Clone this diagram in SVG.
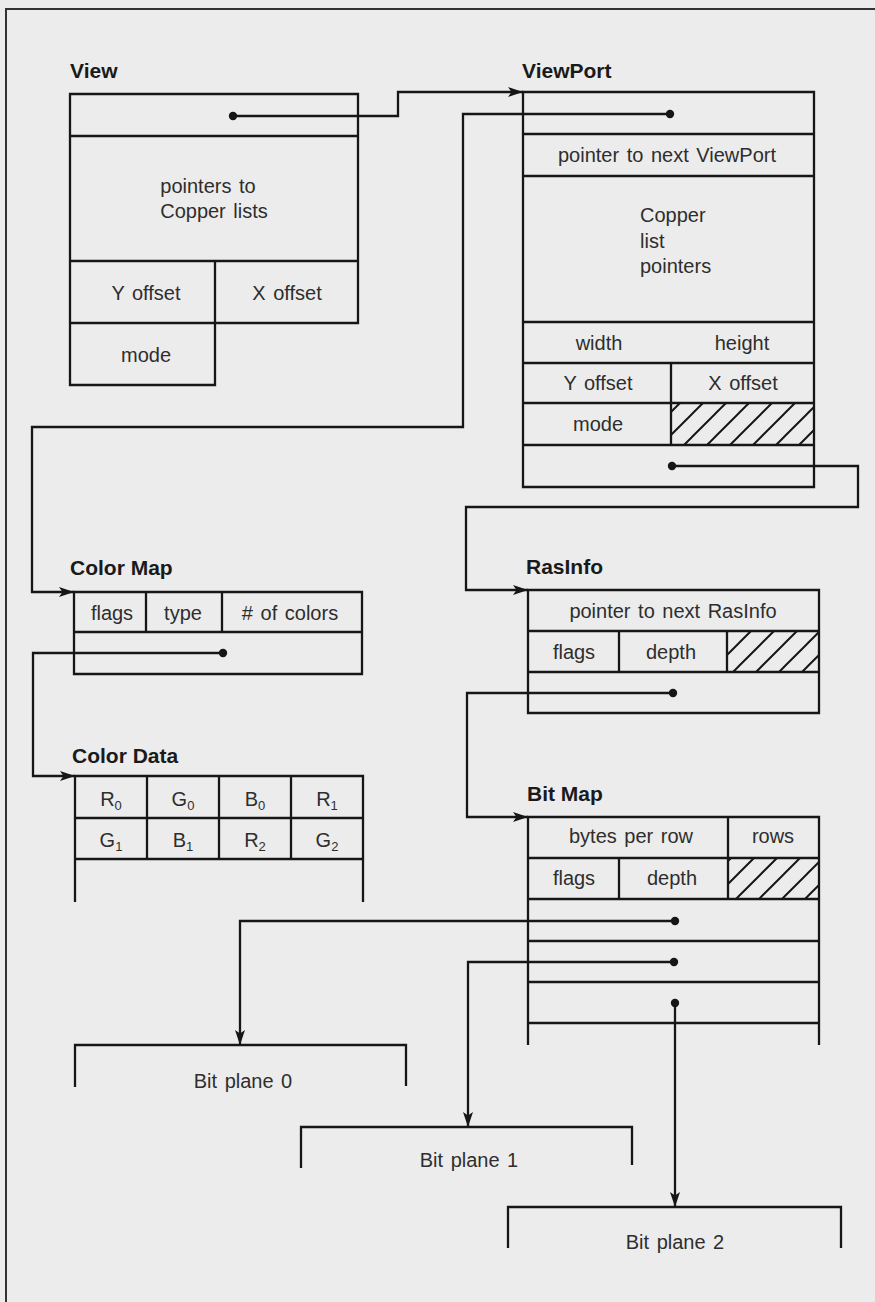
<svg xmlns="http://www.w3.org/2000/svg" width="875" height="1302" viewBox="0 0 875 1302">
<style>
.bg{fill:#ececec}
.frame{fill:none;stroke:#333;stroke-width:2}
.box{fill:none;stroke:#161616;stroke-width:2.3;stroke-linejoin:miter}
.hatch{fill:url(#hatch);stroke:none}
.conn{fill:none;stroke:#161616;stroke-width:2.3}
.dot{fill:#161616}
.lbl{font-family:"Liberation Sans",Arial,sans-serif;font-weight:bold;font-size:21px;fill:#1a1a1a}
.t{font-family:"Liberation Sans",Arial,sans-serif;font-size:20px;fill:#2e2e2e;word-spacing:2px}
.c{text-anchor:middle}
.sub{font-size:13px}
</style>
<defs>
<pattern id="hatch" patternUnits="userSpaceOnUse" x="2" y="0" width="23" height="23">
<path d="M-2,25 L25,-2 M-2,2 L2,-2 M21,25 L25,21" stroke="#161616" stroke-width="2" fill="none"/>
</pattern>
<marker id="arr" markerUnits="userSpaceOnUse" markerWidth="16" markerHeight="11" refX="15" refY="5" orient="auto">
<path d="M0,0 L15,5 L0,10 L3.5,5 Z" fill="#161616"/>
</marker>
</defs>
<rect class="bg" x="0" y="0" width="875" height="1302"/>
<path class="frame" d="M6,1302 V9 H875"/>

<g id="view">
<text class="lbl" x="70" y="78">View</text>
<path class="box" d="M70,94 H358 V323 H70 Z M70,136 H358 M70,261 H358 M215,261 V385 H70 V323"/>
<text class="t c" x="208" y="193">pointers to</text>
<text class="t c" x="214" y="218">Copper lists</text>
<text class="t c" x="146" y="300">Y offset</text>
<text class="t c" x="287" y="300">X offset</text>
<text class="t c" x="146" y="362">mode</text>
</g>

<g id="viewport">
<text class="lbl" x="522" y="78">ViewPort</text>
<rect class="hatch" x="671" y="403" width="143" height="42"/>
<path class="box" d="M523,92 H814 V487 H523 Z M523,134 H814 M523,176 H814 M523,322 H814 M523,363 H814 M523,403 H814 M523,445 H814 M671,363 V445"/>
<text class="t c" x="667" y="162">pointer to next ViewPort</text>
<text class="t" x="640" y="222">Copper</text>
<text class="t" x="640" y="248">list</text>
<text class="t" x="640" y="273">pointers</text>
<text class="t c" x="599" y="350">width</text>
<text class="t c" x="742" y="350">height</text>
<text class="t c" x="598" y="390">Y offset</text>
<text class="t c" x="743" y="390">X offset</text>
<text class="t c" x="598" y="431">mode</text>
</g>

<g id="colormap">
<text class="lbl" x="70" y="575">Color Map</text>
<path class="box" d="M74,592 H362 V674 H74 Z M74,632 H362 M146,592 V632 M222,592 V632"/>
<text class="t c" x="112" y="620">flags</text>
<text class="t c" x="183" y="620">type</text>
<text class="t c" x="290" y="620"># of colors</text>
</g>

<g id="colordata">
<text class="lbl" x="72" y="763">Color Data</text>
<path class="box" d="M75,902 V776 H363 V902 M75,818 H363 M75,859 H363 M147,776 V859 M219,776 V859 M291,776 V859"/>
<text class="t c" x="111" y="806">R<tspan class="sub" dy="4">0</tspan></text>
<text class="t c" x="183" y="806">G<tspan class="sub" dy="4">0</tspan></text>
<text class="t c" x="255" y="806">B<tspan class="sub" dy="4">0</tspan></text>
<text class="t c" x="327" y="806">R<tspan class="sub" dy="4">1</tspan></text>
<text class="t c" x="111" y="847">G<tspan class="sub" dy="4">1</tspan></text>
<text class="t c" x="183" y="847">B<tspan class="sub" dy="4">1</tspan></text>
<text class="t c" x="255" y="847">R<tspan class="sub" dy="4">2</tspan></text>
<text class="t c" x="327" y="847">G<tspan class="sub" dy="4">2</tspan></text>
</g>

<g id="rasinfo">
<text class="lbl" x="526" y="574">RasInfo</text>
<rect class="hatch" x="727" y="631" width="92" height="41"/>
<path class="box" d="M528,590 H819 V713 H528 Z M528,631 H819 M528,672 H819 M619,631 V672 M727,631 V672"/>
<text class="t c" x="673" y="618">pointer to next RasInfo</text>
<text class="t c" x="574" y="659">flags</text>
<text class="t c" x="671" y="659">depth</text>
</g>

<g id="bitmap">
<text class="lbl" x="527" y="801">Bit Map</text>
<rect class="hatch" x="728" y="858" width="91" height="41"/>
<path class="box" d="M528,1045 V817 H819 V1045 M528,858 H819 M528,899 H819 M528,941 H819 M528,982 H819 M528,1023 H819 M728,817 V899 M619,858 V899"/>
<text class="t c" x="631" y="843">bytes per row</text>
<text class="t c" x="773" y="843">rows</text>
<text class="t c" x="574" y="885">flags</text>
<text class="t c" x="672" y="885">depth</text>
</g>

<g id="bitplane0">
<path class="box" d="M75,1087 V1045 H406 V1086"/>
<text class="t c" x="243" y="1088">Bit plane 0</text>
</g>
<g id="bitplane1">
<path class="box" d="M301,1168 V1127 H632 V1165"/>
<text class="t c" x="469" y="1167">Bit plane 1</text>
</g>
<g id="bitplane2">
<path class="box" d="M508,1248 V1207 H841 V1248"/>
<text class="t c" x="675" y="1249">Bit plane 2</text>
</g>

<g id="connectors">
<path class="conn" d="M233,116 H398 V92 H523" marker-end="url(#arr)"/>
<circle class="dot" cx="233" cy="116" r="4.2"/>
<path class="conn" d="M670,114 H463 V427 H32 V592 H74" marker-end="url(#arr)"/>
<circle class="dot" cx="670" cy="114" r="4.2"/>
<path class="conn" d="M223,653 H33 V776 H75" marker-end="url(#arr)"/>
<circle class="dot" cx="223" cy="653" r="4.2"/>
<path class="conn" d="M672,466 H858 V507 H466 V590 H528" marker-end="url(#arr)"/>
<circle class="dot" cx="672" cy="466" r="4.2"/>
<path class="conn" d="M673,693 H467 V817 H528" marker-end="url(#arr)"/>
<circle class="dot" cx="673" cy="693" r="4.2"/>
<path class="conn" d="M675,921 H240 V1045" marker-end="url(#arr)"/>
<circle class="dot" cx="675" cy="921" r="4.2"/>
<path class="conn" d="M674,962 H468 V1127" marker-end="url(#arr)"/>
<circle class="dot" cx="674" cy="962" r="4.2"/>
<path class="conn" d="M675,1003 V1207" marker-end="url(#arr)"/>
<circle class="dot" cx="675" cy="1003" r="4.2"/>
</g>
</svg>
